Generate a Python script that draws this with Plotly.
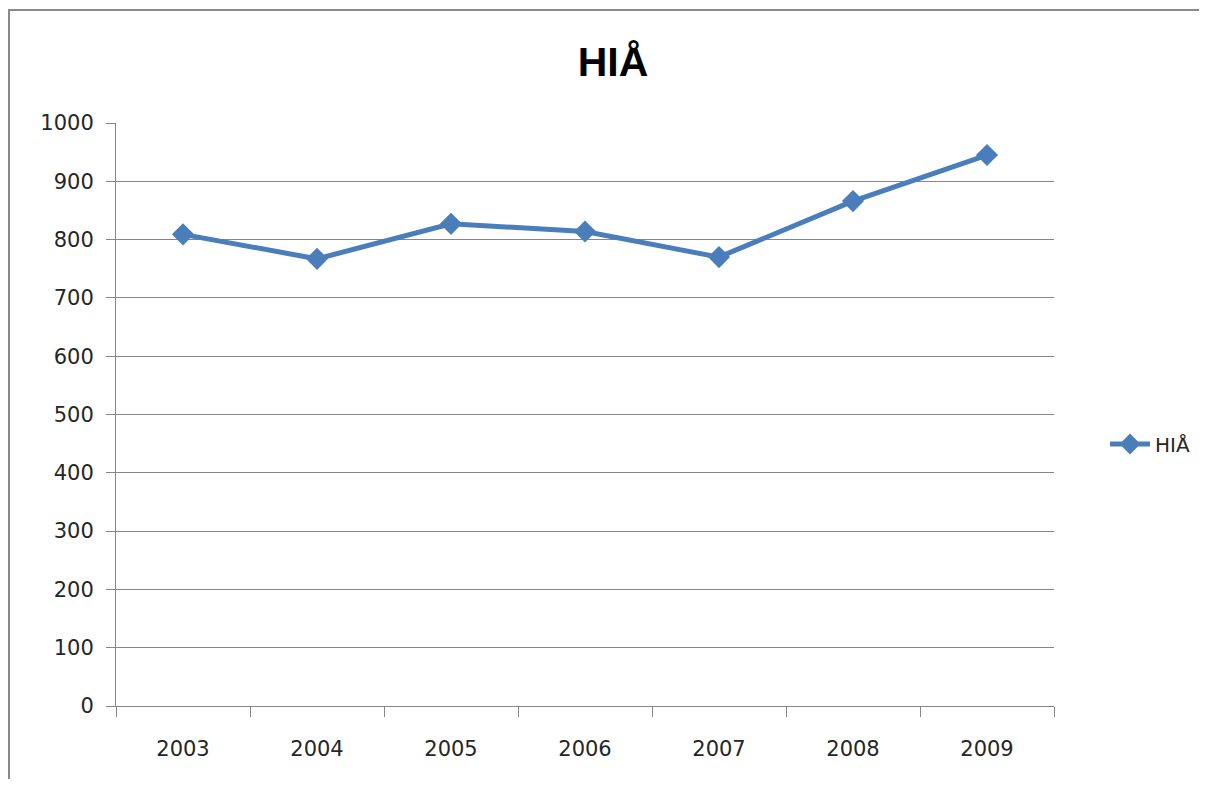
import plotly.graph_objects as go

years = ["2003", "2004", "2005", "2006", "2007", "2008", "2009"]
hia = [809, 767, 827, 814, 770, 866, 945]

line_blue = "#4A7EBB"
grid_grey = "#868686"
tick_font = dict(family="DejaVu Sans", size=21, color="#262626")

fig = go.Figure()
fig.add_trace(go.Scatter(
    x=years, y=hia, name="HIÅ", mode="lines+markers",
    line=dict(color=line_blue, width=5),
    marker=dict(symbol="diamond", size=17, color=line_blue),
))

# page body adds an 8px margin all round, so the figure is sized to fit
# inside the window without scrollbars; positions are in figure pixels
W, H = 1191, 771
L, R, T, B = 108, 145, 115, 73
pw, ph = W - L - R, H - T - B

def px_x(v):
    return (v - L) / pw

def px_y(v):
    return (H - B - v) / ph

# outer chart frame: only its top and left edges are visible
frame = dict(color="#8a8a8a", width=2)
fig.add_shape(type="line", xref="paper", yref="paper",
              x0=px_x(0), x1=px_x(W + 20), y0=px_y(2), y1=px_y(2), line=frame)
fig.add_shape(type="line", xref="paper", yref="paper",
              x0=px_x(1), x1=px_x(1), y0=px_y(2), y1=px_y(H + 20), line=frame)

fig.update_layout(
    width=W, height=H,
    margin=dict(l=L, r=R, t=T, b=B, autoexpand=False),
    paper_bgcolor="white", plot_bgcolor="white",
    title=dict(text="<b>HIÅ</b>", x=605 / W, xanchor="center", y=1 - 54 / H, yanchor="middle",
               font=dict(family="Liberation Sans", size=41, color="black")),
    showlegend=True,
    legend=dict(xref="container", yref="container",
                x=1097 / W, xanchor="left", y=1 - 436 / H, yanchor="middle",
                font=dict(family="DejaVu Sans", size=20, color="#262626"),
                itemwidth=40, bgcolor="rgba(0,0,0,0)"),
    font=tick_font,
)

fig.update_xaxes(
    type="category", range=[-0.5, 6.5],
    showline=True, linecolor=grid_grey, linewidth=1,
    ticks="outside", tickson="boundaries", ticklen=10, tickcolor=grid_grey,
    showgrid=False, tickfont=tick_font, ticklabelstandoff=24,
)
fig.update_yaxes(
    range=[0, 1000], dtick=100, tick0=0,
    showline=True, linecolor=grid_grey, linewidth=1,
    ticks="outside", ticklen=9, tickcolor=grid_grey,
    showgrid=True, gridcolor=grid_grey, gridwidth=1,
    zeroline=False, tickfont=tick_font, ticklabelstandoff=8,
)

fig.write_html("out.html")
